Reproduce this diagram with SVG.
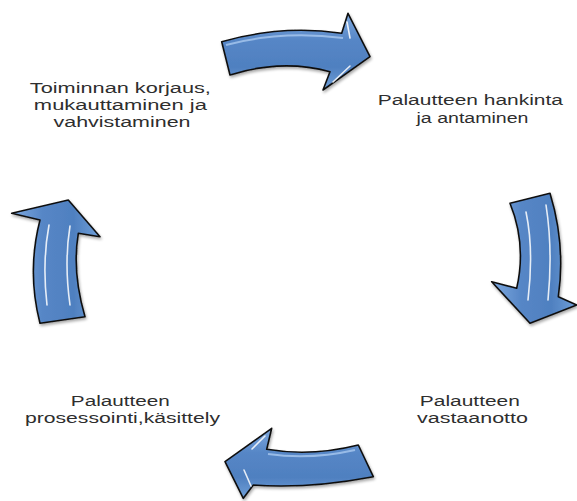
<svg xmlns="http://www.w3.org/2000/svg" width="577" height="501" viewBox="0 0 577 501">
  <defs>
    <style>
      .lbl { font-family: "Liberation Sans", Arial, sans-serif; font-size: 15.2px; fill: #2e2e2e; text-anchor: middle; }
      .arrow { stroke: #111111; stroke-width: 1.6; stroke-linejoin: round; }
      .bevel { fill: none; stroke: #a9c8ef; stroke-width: 2; stroke-linejoin: round; opacity: 0.8; }
      .glint { fill: none; stroke: #ffffff; stroke-width: 1.6; stroke-linecap: round; opacity: 0.85; }
    </style>
    <linearGradient id="gradV" x1="0" y1="0" x2="0" y2="1">
      <stop offset="0" stop-color="#7ea9df"/>
      <stop offset="0.35" stop-color="#5686c6"/>
      <stop offset="0.7" stop-color="#4f80c0"/>
      <stop offset="1" stop-color="#6f9fd8"/>
    </linearGradient>
    <linearGradient id="gradH" x1="0" y1="0" x2="1" y2="0">
      <stop offset="0" stop-color="#7ea9df"/>
      <stop offset="0.35" stop-color="#5686c6"/>
      <stop offset="0.7" stop-color="#4f80c0"/>
      <stop offset="1" stop-color="#6f9fd8"/>
    </linearGradient>
    <filter id="shadow" x="-20%" y="-20%" width="140%" height="140%">
      <feGaussianBlur in="SourceAlpha" stdDeviation="1.8"/>
      <feOffset dx="1" dy="2" result="b"/>
      <feComponentTransfer><feFuncA type="linear" slope="0.35"/></feComponentTransfer>
      <feMerge><feMergeNode/><feMergeNode in="SourceGraphic"/></feMerge>
    </filter>
  </defs>

  <rect width="577" height="501" fill="#ffffff"/>

  <!-- curved block arrows forming the cycle -->
  <g id="connectors">
    <g id="arrow-top" filter="url(#shadow)">
      <path class="arrow" fill="url(#gradV)" d="M221.7,41.7 Q282,24.5 341.7,33.3 L348,13.3 L370,56.7 L323,90 L330,71.7 Q282,58.6 230,75 Z"/>
      <path class="bevel" d="M226,45 Q282,30 343,38"/>
      <path class="glint" d="M347,22 L350,38"/>
      <path class="glint" d="M333,82 L350,66"/>
    </g>
    <g id="arrow-right" filter="url(#shadow)">
      <path class="arrow" fill="url(#gradH)" d="M510,203.3 L550,193.3 Q565.8,245 558.3,296.7 L576.7,305 L530,323.3 L491.7,281.7 L516.7,288.3 Q526.7,244.2 510,203.3 Z"/>
      <path class="glint" d="M526,212 Q534,250 528,300"/>
      <path class="glint" d="M546,205 Q553,250 548,300"/>
    </g>
    <g id="arrow-bottom" filter="url(#shadow)">
      <path class="arrow" fill="url(#gradV)" d="M358.3,445 Q311.5,456.8 266.7,449.3 L271.7,428.3 L225,461.7 L243.3,498.3 L253.3,485 Q306.7,489.2 373.3,476.7 Z"/>
      <path class="bevel" d="M355,450 Q311,460 268,454"/>
      <path class="glint" d="M265,436 L252,449"/>
      <path class="glint" d="M244,470 L251,486"/>
    </g>
    <g id="arrow-left" filter="url(#shadow)">
      <path class="arrow" fill="url(#gradH)" d="M68.3,200 L100,236.7 L78.3,233.3 Q71.8,271.6 85,316.7 L40,323.3 Q26.7,271.6 40,220 L11.7,213.3 Z"/>
      <path class="glint" d="M49,225 Q42,262 47,305"/>
      <path class="glint" d="M70,226 Q64,262 70,305"/>
    </g>
  </g>

  <!-- stage labels, one text block per stage -->
  <g id="node-korjaus">
    <text class="lbl">
      <tspan x="122.5" y="93" textLength="181" lengthAdjust="spacingAndGlyphs">Toiminnan korjaus,</tspan>
      <tspan x="122.5" y="110" textLength="173" lengthAdjust="spacingAndGlyphs">mukauttaminen ja</tspan>
      <tspan x="122" y="127" textLength="137" lengthAdjust="spacingAndGlyphs">vahvistaminen</tspan>
    </text>
  </g>
  <g id="node-hankinta">
    <text class="lbl">
      <tspan x="472.5" y="105" textLength="185" lengthAdjust="spacingAndGlyphs">Palautteen hankinta</tspan>
      <tspan x="472.5" y="123" textLength="112" lengthAdjust="spacingAndGlyphs">ja antaminen</tspan>
    </text>
  </g>
  <g id="node-vastaanotto">
    <text class="lbl">
      <tspan x="472" y="406" textLength="100" lengthAdjust="spacingAndGlyphs">Palautteen</tspan>
      <tspan x="472.5" y="423" textLength="111" lengthAdjust="spacingAndGlyphs">vastaanotto</tspan>
    </text>
  </g>
  <g id="node-prosessointi">
    <text class="lbl">
      <tspan x="122.5" y="406" textLength="99" lengthAdjust="spacingAndGlyphs">Palautteen</tspan>
      <tspan x="122.5" y="423" textLength="195" lengthAdjust="spacingAndGlyphs">prosessointi,käsittely</tspan>
    </text>
  </g>
</svg>
